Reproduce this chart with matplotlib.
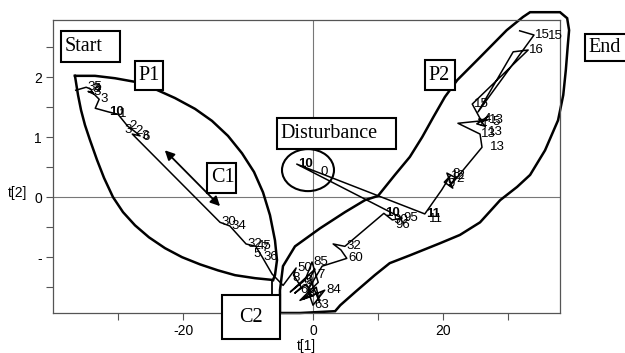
import matplotlib
matplotlib.use("Agg")
import matplotlib.pyplot as plt
from matplotlib.patches import Rectangle, Ellipse, Polygon

# ---- trajectory (score plot t[1] vs t[2]) ----
t1 = [-36.5, -34.9, -34.2, -33.8, -34.6, -34.0, -32.9, -33.5, -31.5, -30.0, -28.5, -27.5, -26.6, -27.8,
      -14.3, -12.8, -10.3, -8.8, -7.8, -6.3, -4.6, -2.6,
      -3.0, -1.8, -2.8, -1.0, -0.2, -1.5, 0.5, 1.0, -0.5, 0.3,
      -3.5, -1.2, -0.15, 0.8,
      -2.0, 1.8, 0.0, -0.8, 1.4, 5.2, 4.3, 3.1, 4.9, 10.9, 12.2, 13.7, -2.5,
      17.2, 19.8, 21.1, 20.2, 21.5, 20.6, 22.0, 21.0, 21.8, 26.0, 25.7, 22.3, 26.8,
      25.5, 26.5, 25.2, 27.0, 26.0, 24.5, 33.1, 30.8, 25.4,
      34.0, 31.8]
t2 = [1.78, 1.83, 1.80, 1.72, 1.76, 1.75, 1.63, 1.48, 1.42, 1.38, 1.18, 1.10, 1.02, 1.05,
      -0.42, -0.48, -0.78, -0.82, -1.00, -1.28, -1.47, -1.18,
      -1.30, -1.50, -1.60, -1.45, -1.65, -1.70, -1.50, -1.75, -1.35, -1.20,
      -1.58, -1.38, -1.08, -1.42,
      -1.72, -1.55, -1.80, -1.55, -1.15, -1.02, -0.88, -0.78, -0.82, -0.27, -0.38, -0.35, 0.55,
      -0.28, 0.12, 0.35, 0.25, 0.15, 0.40, 0.32, 0.20, 0.28, 0.83, 1.05, 1.23, 1.28,
      1.30, 1.18, 1.22, 1.35, 1.25, 1.55, 2.45, 2.42, 1.42,
      2.70, 2.77]
labels = ["", "35", "3", "", "", "3", "3", "", "10", "1", "2", "2", "3", "",
          "30", "34", "32", "45", "36", "", "", "50",
          "", "", "", "", "", "", "", "", "", "",
          "", "", "85", "",
          "", "84", "63", "", "", "60", "", "", "32", "10", "90", "95", "10",
          "11", "", "12", "", "", "", "", "", "", "", "13", "", "13",
          "", "", "", "", "", "15", "16", "", "",
          "15", ""]

# extra overlapping labels
ex_x = [36.2, 27.2, 26.9, 1.2, 12.6, -29.0, -26.2, 22.0, 27.6, 0.6, -1.5, 17.8,
        -3.2, -2.0, -0.8, 0.2, -1.2, 20.6, 21.4, 25.6, 26.2, -33.8, -9.2, -8.0]
ex_y = [2.68, 0.83, 1.08, 0.42, -0.47, 1.12, 1.00, 0.30, 1.25, -1.30, -1.45, -0.36,
        -1.35, -1.55, -1.62, -1.68, -1.40, 0.22, 0.38, 1.20, 1.30, 1.80, -0.95, -0.85]
ex_t = ["15", "13", "13", "0", "96", "3", "6", "2", "5", "7", "5", "11",
        "8", "6", "3", "7", "9", "9", "8", "4", "4", "4", "5", "7"]

# ---- envelopes ----
p1_up_x = [-36.62, -33.54, -30.46, -27.38, -24.31, -21.23, -18.15, -15.54, -13.08,
           -10.92, -9.08, -7.69, -6.62, -5.85, -5.54, -5.85, -6.15]
p1_up_y = [2.02, 2.02, 1.98, 1.92, 1.80, 1.65, 1.47, 1.27, 1.02,
           0.73, 0.42, 0.08, -0.30, -0.72, -1.05, -1.30, -1.38]
p1_lo_x = [-36.62, -36.15, -35.69, -35.08, -34.31, -33.23, -32.15, -30.77, -29.23,
           -27.38, -25.23, -22.77, -20.15, -17.38, -14.62, -12.0, -8.92, -6.15]
p1_lo_y = [2.02, 1.70, 1.45, 1.20, 0.95, 0.62, 0.32, 0.0, -0.25,
           -0.47, -0.67, -0.85, -1.00, -1.12, -1.22, -1.30, -1.35, -1.38]

p2_x = [-5.08, -5.08, -4.62, -2.77, 1.08, 4.92, 8.0, 10.0, 12.6, 14.9, 16.8, 18.5,
        20.3, 22.2, 25.7, 29.8, 32.3, 33.4, 38.0, 39.1, 39.4, 39.2, 38.9, 38.5,
        37.7, 35.7, 33.4, 31.4, 28.8, 25.7, 22.6, 19.5, 14.9, 11.8, 9.5, 6.5,
        4.2, 3.4, -2.0]
p2_y = [-1.93, -1.55, -1.15, -0.82, -0.52, -0.25, -0.05, 0.02, 0.37, 0.67, 1.00, 1.33,
        1.67, 1.95, 2.33, 2.78, 3.00, 3.08, 3.08, 2.98, 2.78, 2.53, 2.12, 1.70,
        1.28, 0.78, 0.37, 0.17, -0.05, -0.42, -0.63, -0.77, -0.97, -1.10, -1.30, -1.58,
        -1.80, -1.90, -1.93]

# ---- text boxes: label, x0, x1, y0, y1 ----
box_txt = ["Start", "P1", "C1", "Disturbance", "P2", "End", "C2"]
box_x0 = [-38.8, -27.4, -16.3, -5.5, 17.2, 41.8, -14.0]
box_x1 = [-29.7, -23.1, -11.8, 12.8, 21.8, 48.3, -5.1]
box_y0 = [2.25, 1.78, 0.07, 0.80, 1.78, 2.27, -2.37]
box_y1 = [2.77, 2.27, 0.57, 1.32, 2.28, 2.72, -1.63]

fig = plt.figure(figsize=(6.25, 3.53), dpi=100)
ax = fig.add_axes([53/625, 1-313/353, (560-53)/625, (313-20)/353])
ax.set_xlim(-40, 38)
ax.set_ylim(-1.93, 2.95)

ax.axhline(0, color="#777777", lw=0.8, zorder=1)
ax.axvline(0, color="#777777", lw=0.8, zorder=1)

ax.plot(t1, t2, color="black", lw=1.1, zorder=3)
bold_set = {"10", "11"}
for x, y, s in zip(t1, t2, labels):
    if s:
        ax.text(x + 0.2, y, s, fontsize=9.5, family="Liberation Sans",
                fontweight="bold" if s in bold_set else "normal",
                va="center", ha="left", zorder=4)
for x, y, s in zip(ex_x, ex_y, ex_t):
    ax.text(x, y, s, fontsize=9.5, family="Liberation Sans",
            va="center", ha="left", zorder=4)

ax.plot(p1_up_x, p1_up_y, color="black", lw=1.8, zorder=2, clip_on=False)
ax.plot(p1_lo_x, p1_lo_y, color="black", lw=1.8, zorder=2, clip_on=False)
ax.add_patch(Polygon(list(zip(p2_x, p2_y)), closed=True, fill=False,
                     edgecolor="black", lw=1.8, zorder=2, clip_on=False))
ax.add_patch(Ellipse((-0.77, 0.45), 8.0, 0.7, fill=False, edgecolor="black",
                     lw=1.5, zorder=2))

# C1 double arrow
ax.annotate("", xy=(-22.8, 0.78), xytext=(-14.3, -0.15),
            arrowprops=dict(arrowstyle="<|-|>", color="black", lw=1.3,
                            mutation_scale=14, shrinkA=0, shrinkB=0), zorder=3)
# connector from P1 tip to C2 box
ax.plot([-6.3, -6.3], [-1.38, -1.63], color="black", lw=1.3, zorder=2, clip_on=False)

for s, x0, x1, y0, y1 in zip(box_txt, box_x0, box_x1, box_y0, box_y1):
    ax.add_patch(Rectangle((x0, y0), x1 - x0, y1 - y0, facecolor="white",
                           edgecolor="black", lw=1.5, zorder=5, clip_on=False))
    if s == "C2":
        ax.text((x0 + x1) / 2, (y0 + y1) / 2, s, fontsize=14.5, family="Liberation Serif",
                ha="center", va="center", zorder=6, clip_on=False)
    else:
        ax.text(x0 + 0.55, (y0 + y1) / 2, s, fontsize=14.5, family="Liberation Serif",
                ha="left", va="center", zorder=6, clip_on=False)

ax.set_xticks([-20, 0, 20])
ax.set_xticklabels(["-20", "0", "20"])
ax.set_xticks([-30, -10, 10, 30], minor=True)
ax.set_yticks([-1, 0, 1, 2])
ax.set_yticklabels(["-", "0", "1", "2"])
ax.set_yticks([-1.5, -0.5, 0.5, 1.5, 2.5], minor=True)
ax.tick_params(which="both", length=5, width=0.8, color="#555555", direction="out",
               labelsize=10, pad=3)
for lab in ax.get_xticklabels() + ax.get_yticklabels():
    lab.set_family("Liberation Sans")
for sp in ax.spines.values():
    sp.set_color("#555555")
    sp.set_linewidth(0.9)

fig.text(18/625, 1-193/353, "t[2]", fontsize=10, family="Liberation Sans",
         ha="center", va="center")
fig.text(306/625, 1-346/353, "t[1]", fontsize=10, family="Liberation Sans",
         ha="center", va="center")

fig.savefig("out.png", dpi=100)
